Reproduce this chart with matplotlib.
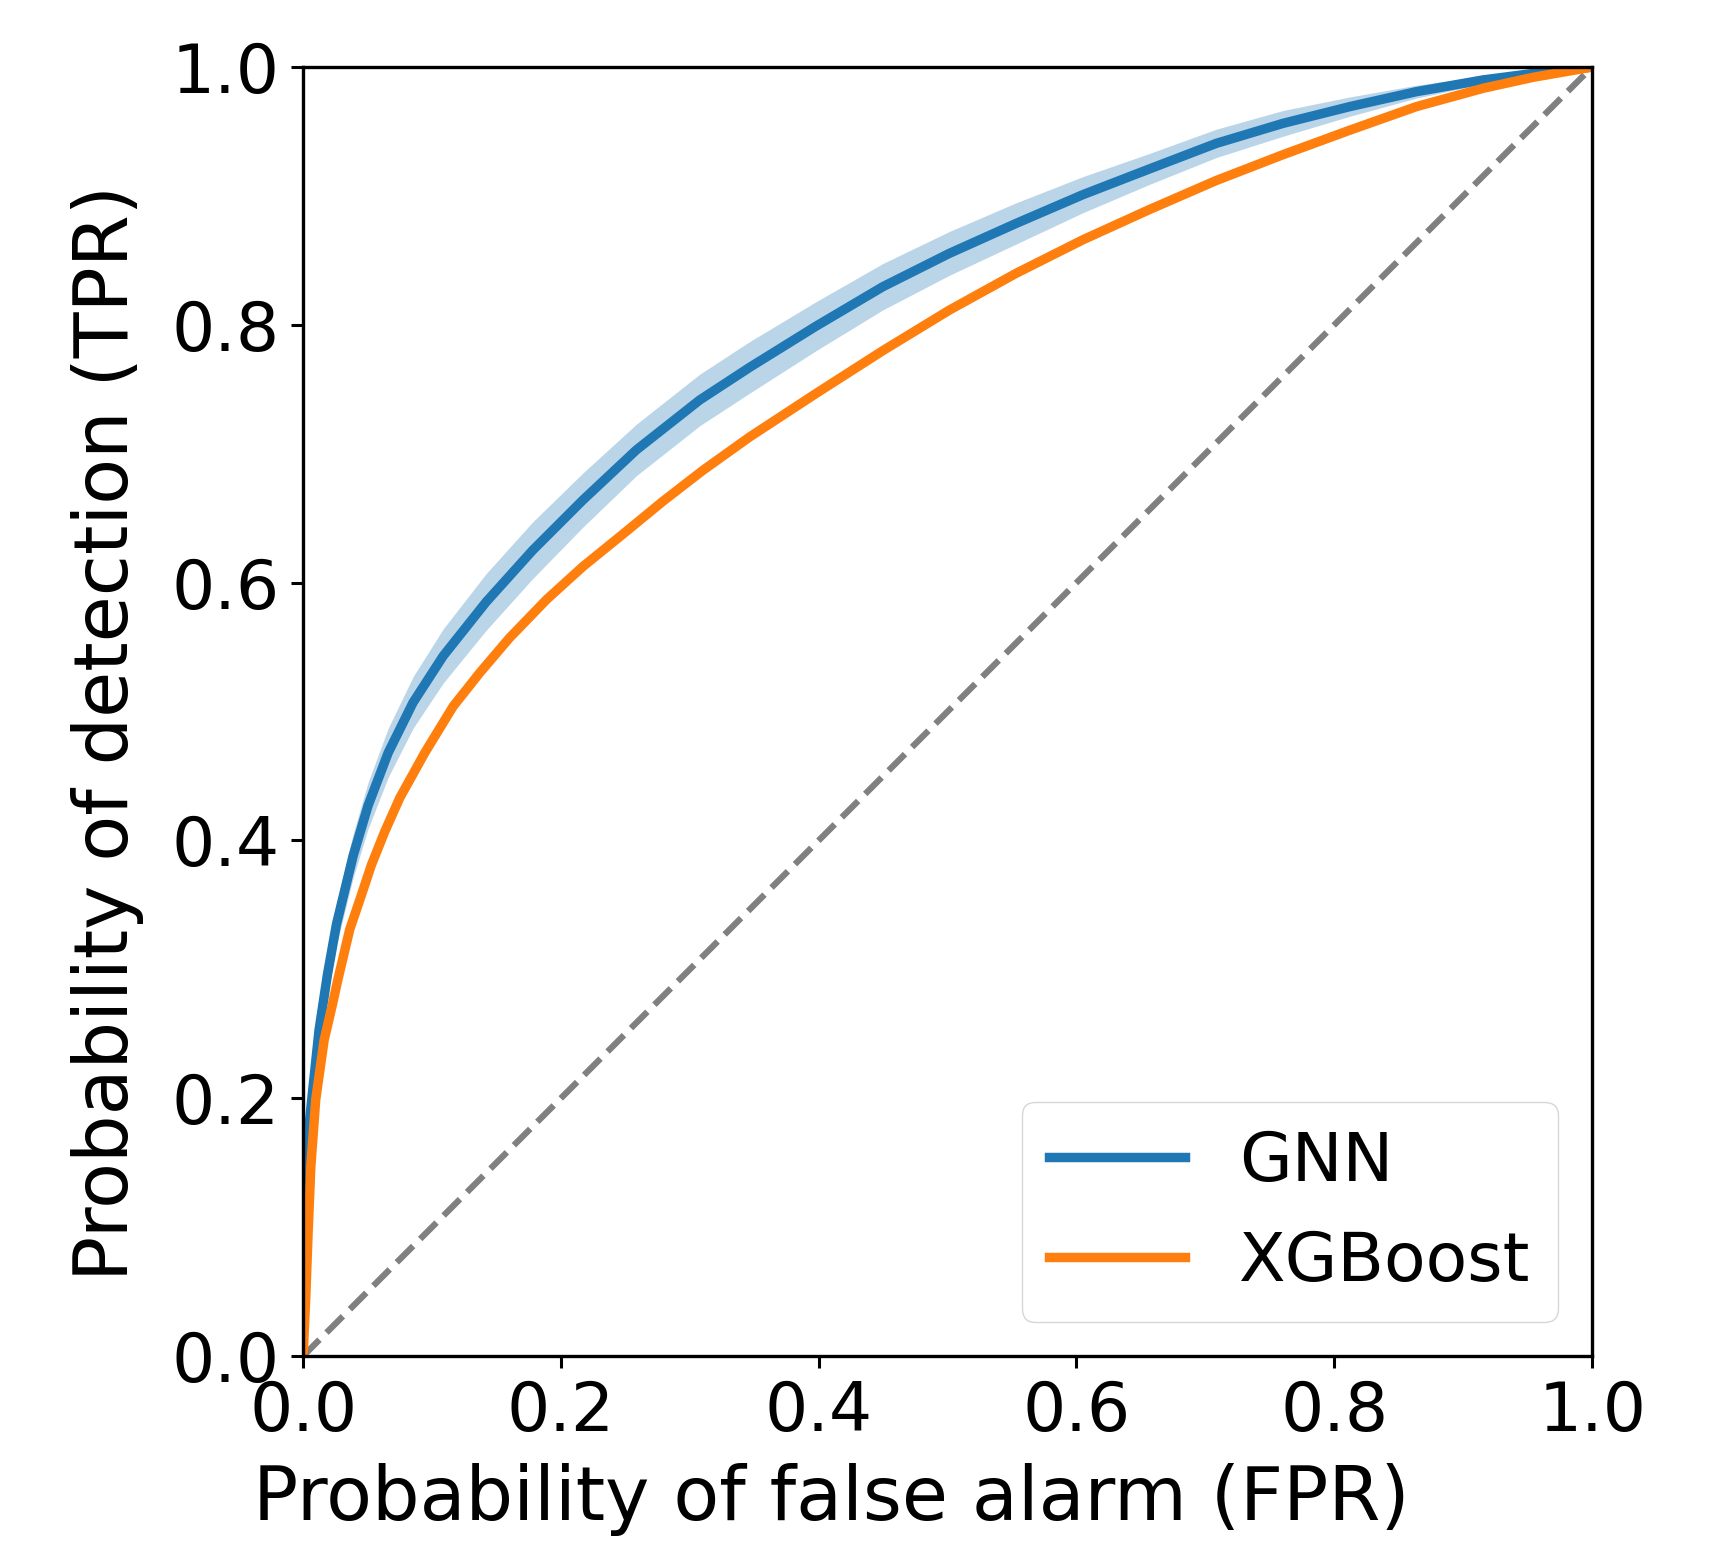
import numpy as np
import matplotlib.pyplot as plt

# ROC values
gnn_fpr = [0.0, 0.0005, 0.002, 0.0041, 0.0067, 0.0124, 0.0189, 0.0259, 0.0388, 0.0504,
           0.066, 0.0853, 0.1086, 0.142, 0.178, 0.217, 0.2586, 0.3077, 0.3464, 0.398,
           0.4498, 0.5015, 0.5532, 0.605, 0.6567, 0.7085, 0.7602, 0.812, 0.8637, 0.9154,
           0.954, 1.0]
gnn_tpr = [0.0, 0.11, 0.147, 0.173, 0.199, 0.253, 0.296, 0.335, 0.388, 0.427,
           0.468, 0.507, 0.543, 0.585, 0.625, 0.664, 0.703, 0.7417, 0.767, 0.799,
           0.8296, 0.8555, 0.8787, 0.901, 0.921, 0.9408, 0.9563, 0.9693, 0.9809, 0.990,
           0.995, 1.0]
# half width of the shaded band around the GNN curve
gnn_band = [0.0, 0.005, 0.008, 0.010, 0.012, 0.014, 0.015, 0.016, 0.017, 0.018,
            0.019, 0.020, 0.021, 0.022, 0.022, 0.021, 0.020, 0.020, 0.020, 0.019,
            0.018, 0.017, 0.016, 0.014, 0.012, 0.011, 0.010, 0.0075, 0.005, 0.003,
            0.002, 0.0]

xgb_fpr = [0.0, 0.002, 0.0039, 0.006, 0.0098, 0.0163, 0.0228, 0.0272, 0.0362, 0.0447,
           0.053, 0.0634, 0.075, 0.0944, 0.1164, 0.137, 0.160, 0.189, 0.217, 0.251,
           0.279, 0.310, 0.3464, 0.398, 0.4498, 0.5015, 0.5532, 0.605, 0.6567, 0.7085,
           0.7602, 0.812, 0.8637, 0.9154, 0.954, 1.0]
xgb_tpr = [0.0, 0.044, 0.096, 0.147, 0.199, 0.245, 0.273, 0.293, 0.331, 0.356,
           0.381, 0.407, 0.433, 0.468, 0.504, 0.530, 0.557, 0.587, 0.6124, 0.640,
           0.663, 0.687, 0.713, 0.7468, 0.780, 0.8115, 0.840, 0.866, 0.8895, 0.912,
           0.932, 0.951, 0.9693, 0.9835, 0.992, 1.0]

ticks = [0.0, 0.2, 0.4, 0.6, 0.8, 1.0]

fig = plt.figure(figsize=(17.29, 15.45), dpi=100)
ax = fig.add_axes([0.1753, 0.1223, 0.7455, 0.8343])

g_tpr = np.array(gnn_tpr)
g_band = np.array(gnn_band)

ax.plot([0, 1], [0, 1], '--', color='gray', lw=4.5)
ax.fill_between(gnn_fpr, g_tpr - g_band, g_tpr + g_band, color='#1f77b4', alpha=0.3, lw=0)
ax.plot(gnn_fpr, gnn_tpr, color='#1f77b4', lw=6.8, label='GNN')
ax.plot(xgb_fpr, xgb_tpr, color='#ff7f0e', lw=6.8, label='XGBoost')

ax.set_xlim(0, 1)
ax.set_ylim(0, 1)
ax.set_xticks(ticks)
ax.set_yticks(ticks)
ax.tick_params(labelsize=49, length=8.6, width=2.2, pad=8)
for s in ax.spines.values():
    s.set_linewidth(2.4)

ax.set_xlabel('Probability of false alarm (FPR)', fontsize=54, labelpad=13)
ax.set_ylabel('Probability of detection (TPR)', fontsize=54, labelpad=20)
ax.xaxis.label.set_x(0.41)
ax.yaxis.label.set_y(0.483)
ax.legend(loc='lower right', fontsize=49)

fig.savefig('out.png', dpi=100)
